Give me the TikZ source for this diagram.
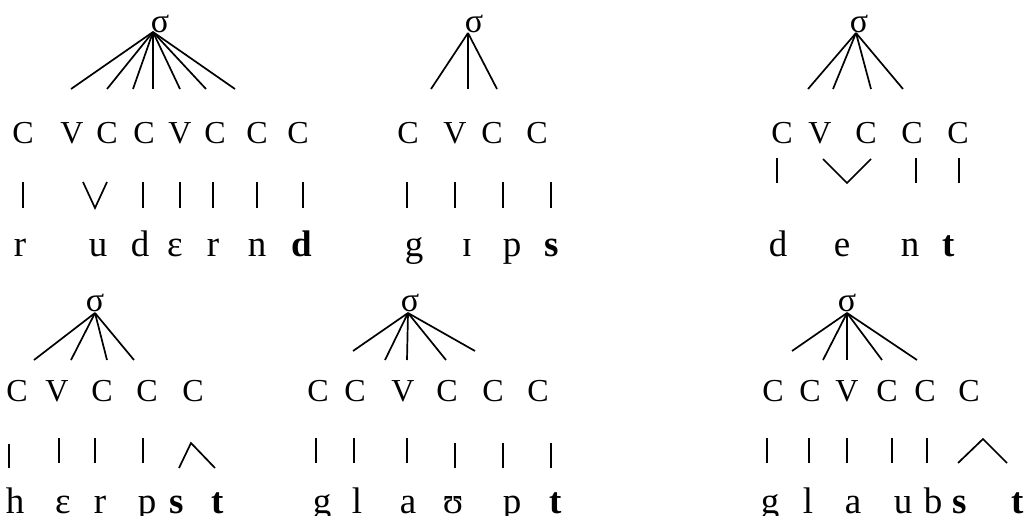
\documentclass[tikz,border=0pt]{standalone}
\usepackage{fontspec}
\setmainfont{Liberation Serif}
\begin{document}
\begin{tikzpicture}[x=1pt,y=-1pt,
  cv/.style={anchor=base,inner sep=0pt,font=\fontsize{32}{36}\selectfont},
  seg/.style={anchor=base,inner sep=0pt,font=\fontsize{37}{42}\selectfont},
  sig/.style={anchor=base,inner sep=0pt,font=\fontsize{34}{38}\selectfont},
  br/.style={line width=1.7pt}]
\useasboundingbox (0,0) rectangle (1027,516);
% ---------- Panel A: ruderend ----------
\node[sig] (aSig) at (160,33) {σ};
\coordinate (aS) at (153,32);
\foreach \x [count=\i] in {71,107,133,153,180,206,235}
  {\coordinate (aE\i) at (\x,89); \draw[br] (aS) -- (aE\i);}
\foreach \x/\t [count=\i] in {23/C,72/V,107/C,144/C,180/V,215/C,257/C,298/C}
  \node[cv] (aC\i) at (\x,143) {\t};
\foreach \x [count=\i] in {23,143,180,213,257,303}
  {\coordinate (aT\i) at (\x,182); \coordinate (aB\i) at (\x,208); \draw[br] (aT\i) -- (aB\i);}
\coordinate (aVl) at (83,182); \coordinate (aVm) at (95,208); \coordinate (aVr) at (107,182);
\draw[br] (aVl) -- (aVm) -- (aVr);
\foreach \x/\t [count=\i] in {20/r,98/u,140/d,175/ɛ,213/r,257/n,302/{\textbf{d}}}
  \node[seg] (aL\i) at (\x,256) {\t};
% ---------- Panel B: gips ----------
\node[sig] (bSig) at (474,33) {σ};
\coordinate (bS) at (468,33);
\foreach \x [count=\i] in {431,468,497}
  {\coordinate (bE\i) at (\x,89); \draw[br] (bS) -- (bE\i);}
\foreach \x/\t [count=\i] in {408/C,455/V,492/C,537/C}
  \node[cv] (bC\i) at (\x,143) {\t};
\foreach \x [count=\i] in {407,455,503,551}
  {\coordinate (bT\i) at (\x,182); \coordinate (bB\i) at (\x,208); \draw[br] (bT\i) -- (bB\i);}
\foreach \x/\t [count=\i] in {414/g,467/ɪ,512/p,552/{\textbf{s}}}
  \node[seg] (bL\i) at (\x,256) {\t};
% ---------- Panel C: dent ----------
\node[sig] (cSig) at (859,33) {σ};
\coordinate (cS) at (856,33);
\foreach \x [count=\i] in {808,833,871,903}
  {\coordinate (cE\i) at (\x,89); \draw[br] (cS) -- (cE\i);}
\foreach \x/\t [count=\i] in {782/C,820/V,866/C,912/C,958/C}
  \node[cv] (cC\i) at (\x,143) {\t};
\foreach \x [count=\i] in {777,916,959}
  {\coordinate (cT\i) at (\x,158); \coordinate (cB\i) at (\x,183); \draw[br] (cT\i) -- (cB\i);}
\coordinate (cVl) at (823,159); \coordinate (cVm) at (847,183); \coordinate (cVr) at (871,159);
\draw[br] (cVl) -- (cVm) -- (cVr);
\foreach \x/\t [count=\i] in {778/d,842/e,910/n,949/{\textbf{t}}}
  \node[seg] (cL\i) at (\x,256) {\t};
% ---------- Panel D: herpst ----------
\node[sig] (dSig) at (95,311) {σ};
\coordinate (dS) at (95,313);
\foreach \x [count=\i] in {34,71,107,134}
  {\coordinate (dE\i) at (\x,360); \draw[br] (dS) -- (dE\i);}
\foreach \x/\t [count=\i] in {17/C,57/V,102/C,147/C,193/C}
  \node[cv] (dC\i) at (\x,401) {\t};
\coordinate (dT1) at (9,444); \coordinate (dB1) at (9,468); \draw[br] (dT1) -- (dB1);
\foreach \x [count=\i from 2] in {59,95,143}
  {\coordinate (dT\i) at (\x,438); \coordinate (dB\i) at (\x,463); \draw[br] (dT\i) -- (dB\i);}
\coordinate (dAl) at (179,468); \coordinate (dAm) at (191,443); \coordinate (dAr) at (215,468);
\draw[br] (dAl) -- (dAm) -- (dAr);
\foreach \x/\t [count=\i] in {15/h,63/ɛ,100/r,147/p,177/{\textbf{s}},218/{\textbf{t}}}
  \node[seg] (dL\i) at (\x,513) {\t};
% ---------- Panel E: glaupt ----------
\node[sig] (eSig) at (410,311) {σ};
\coordinate (eS) at (408,313);
\foreach \x/\y [count=\i] in {353/351,385/360,407/360,446/360,475/351}
  {\coordinate (eE\i) at (\x,\y); \draw[br] (eS) -- (eE\i);}
\foreach \x/\t [count=\i] in {318/C,355/C,403/V,447/C,493/C,538/C}
  \node[cv] (eC\i) at (\x,401) {\t};
\foreach \x/\y [count=\i] in {316/438,354/438,407/438,455/443,503/443,551/443}
  {\coordinate (eT\i) at (\x,\y); \coordinate (eB\i) at (\x,\y+25); \draw[br] (eT\i) -- (eB\i);}
\foreach \x/\t [count=\i] in {322/g,357/l,408/a,453/ʊ,512/p,556/{\textbf{t}}}
  \node[seg] (eL\i) at (\x,513) {\t};
% ---------- Panel F: glaubst ----------
\node[sig] (fSig) at (847,311) {σ};
\coordinate (fS) at (847,313);
\foreach \x/\y [count=\i] in {792/351,823/360,847/360,882/360,917/360}
  {\coordinate (fE\i) at (\x,\y); \draw[br] (fS) -- (fE\i);}
\foreach \x/\t [count=\i] in {773/C,810/C,847/V,887/C,925/C,969/C}
  \node[cv] (fC\i) at (\x,401) {\t};
\foreach \x [count=\i] in {767,809,847,892,927}
  {\coordinate (fT\i) at (\x,438); \coordinate (fB\i) at (\x,463); \draw[br] (fT\i) -- (fB\i);}
\coordinate (fAl) at (958,463); \coordinate (fAm) at (983,439); \coordinate (fAr) at (1007,463);
\draw[br] (fAl) -- (fAm) -- (fAr);
\foreach \x/\t [count=\i] in {770/g,808/l,853/a,903/u,933/b,960/{\textbf{s}},1018/{\textbf{t}}}
  \node[seg] (fL\i) at (\x,513) {\t};
\end{tikzpicture}
\end{document}
